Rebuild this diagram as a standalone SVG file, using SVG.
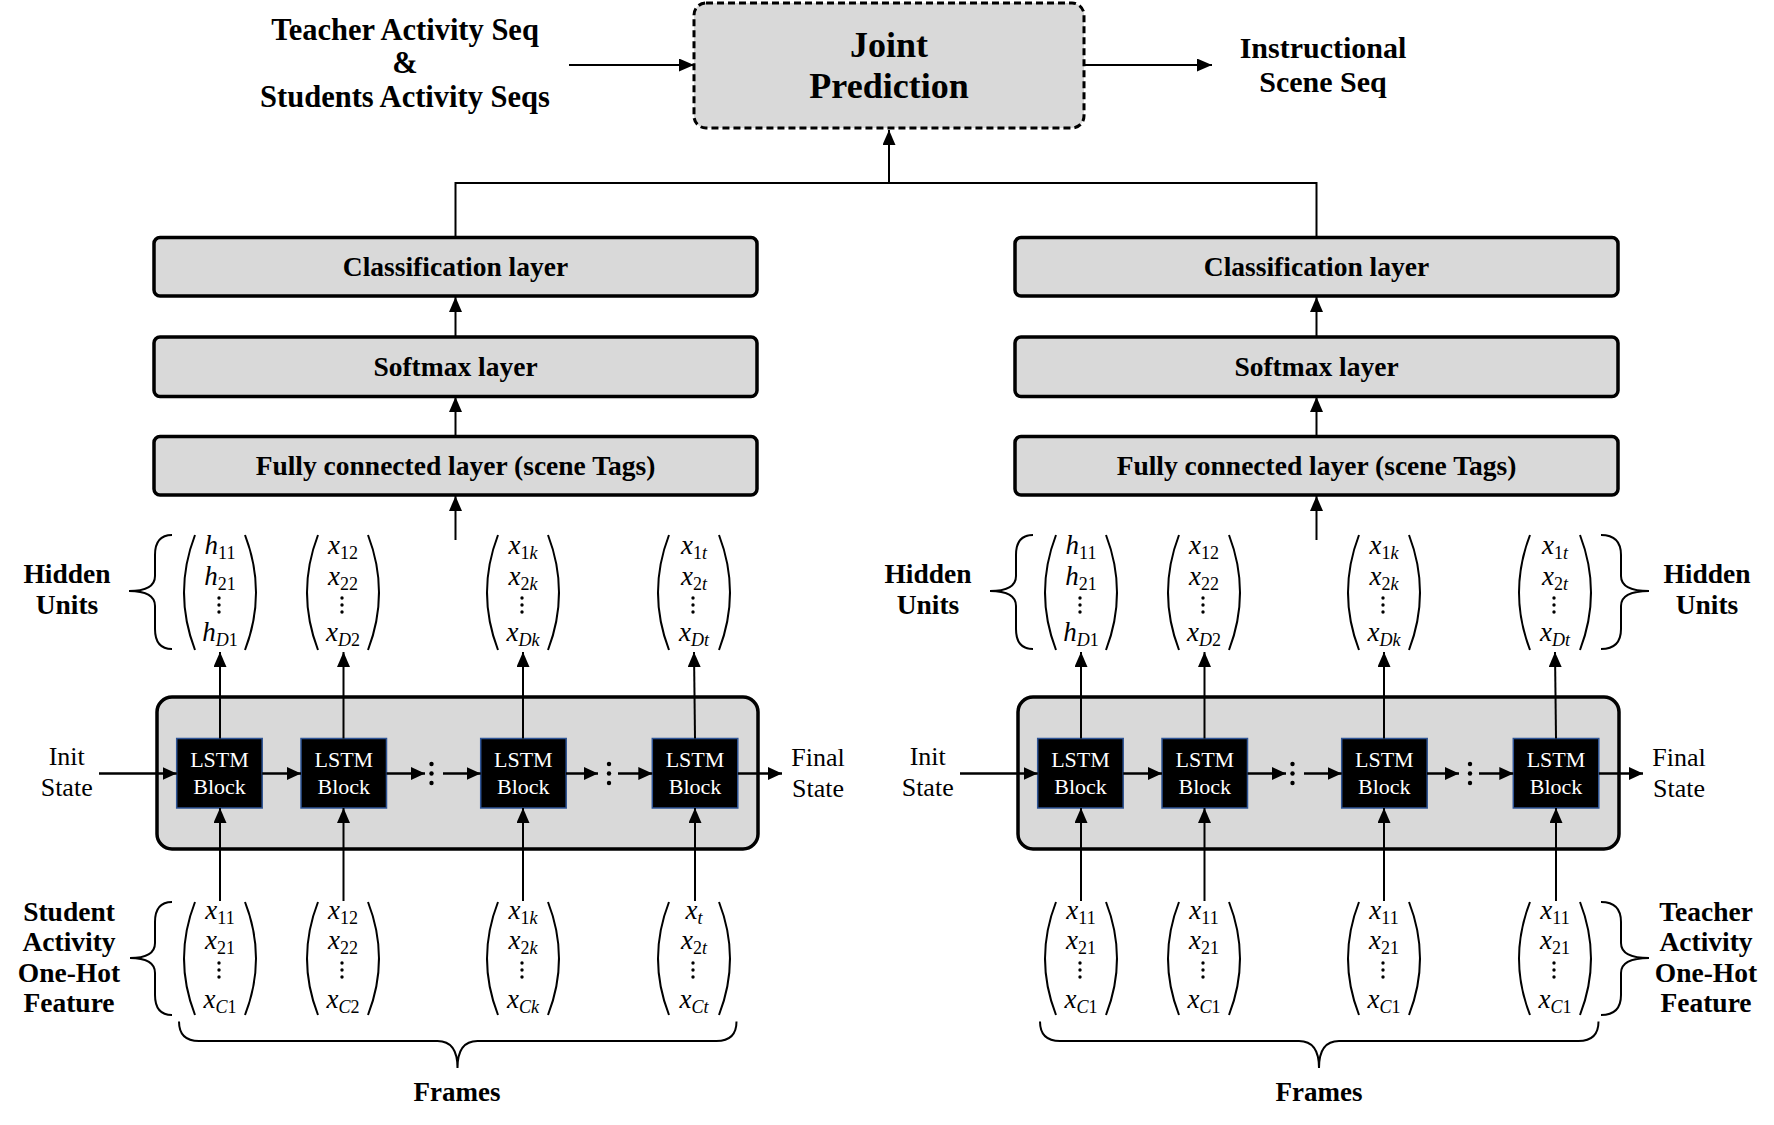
<svg xmlns="http://www.w3.org/2000/svg" width="1774" height="1125" viewBox="0 0 1774 1125">
<style>
.b{font-family:"Liberation Serif","Times New Roman",serif;font-weight:bold;fill:#000;text-anchor:middle}
.r{font-family:"Liberation Serif","Times New Roman",serif;fill:#000;text-anchor:middle;font-size:26px}
.w{font-family:"Liberation Serif","Times New Roman",serif;fill:#fff;text-anchor:middle;font-size:22px}
.m{font-family:"Liberation Serif","Times New Roman",serif;fill:#000;text-anchor:middle;font-size:27px}
.i{font-style:italic}
.s{font-size:18px}
.box{fill:#d9d9d9;stroke:#000;stroke-width:3.5}
.lstm{fill:#000;stroke:#2f5597;stroke-width:1.5}
.ln{fill:none;stroke:#000;stroke-width:2}
.arr{fill:none;stroke:#000;stroke-width:2;marker-end:url(#ah)}
.arr2{fill:none;stroke:#000;stroke-width:2.5;marker-end:url(#ah2)}
.par{fill:none;stroke:#000;stroke-width:2}
.br{fill:none;stroke:#000;stroke-width:2}
</style>
<defs>
<marker id="ah" viewBox="0 0 15 13" refX="15" refY="6.5" markerWidth="15" markerHeight="13" markerUnits="userSpaceOnUse" orient="auto"><path d="M0,0 L15,6.5 L0,13 z" fill="#000"/></marker>
<marker id="ah2" viewBox="0 0 14 13" refX="14" refY="6.5" markerWidth="14" markerHeight="13" markerUnits="userSpaceOnUse" orient="auto"><path d="M0,0 L14,6.5 L0,13 z" fill="#000"/></marker>
<g id="vdH"><circle cx="0" cy="598" r="1.7"/><circle cx="0" cy="605" r="1.7"/><circle cx="0" cy="612" r="1.7"/></g>
<g id="vdI"><circle cx="0" cy="963" r="1.7"/><circle cx="0" cy="970" r="1.7"/><circle cx="0" cy="977" r="1.7"/></g>
<g id="pH"><path class="par" d="M-25,535 Q-47,592.5 -25,650"/><path class="par" d="M25,535 Q47,592.5 25,650"/></g>
<g id="pI"><path class="par" d="M-25,902 Q-47,958.5 -25,1015"/><path class="par" d="M25,902 Q47,958.5 25,1015"/></g>
<g id="rdots"><circle cx="0" cy="764" r="2.2"/><circle cx="0" cy="773.5" r="2.2"/><circle cx="0" cy="783" r="2.2"/></g>
</defs>
<rect width="1774" height="1125" fill="#fff"/>

<g id="top-input">
<text class="b" font-size="30.5" x="405" y="40">Teacher Activity Seq</text>
<text class="b" font-size="30.5" x="405" y="73">&amp;</text>
<text class="b" font-size="30.5" x="405" y="107">Students Activity Seqs</text>
</g>
<g id="joint-prediction">
<rect x="694" y="3" width="390" height="125" rx="12" fill="#d9d9d9" stroke="#000" stroke-width="3" stroke-dasharray="7 4"/>
<text class="b" font-size="36" x="889" y="57">Joint</text>
<text class="b" font-size="36" x="889" y="98">Prediction</text>
</g>
<g id="output">
<text class="b" font-size="30" x="1323" y="58">Instructional</text>
<text class="b" font-size="30" x="1323" y="92">Scene Seq</text>
</g>

<g id="left-classification"><rect class="box" x="154" y="237.5" width="603" height="58.5" rx="6"/><text class="b" font-size="27.5" x="455.5" y="276">Classification layer</text></g>
<g id="left-softmax"><rect class="box" x="154" y="337" width="603" height="59.5" rx="6"/><text class="b" font-size="27.5" x="455.5" y="375.5">Softmax layer</text></g>
<g id="left-fc"><rect class="box" x="154" y="436.5" width="603" height="58.5" rx="6"/><text class="b" font-size="27.5" x="455.5" y="475">Fully connected layer (scene Tags)</text></g>
<g id="right-classification"><rect class="box" x="1015" y="237.5" width="603" height="58.5" rx="6"/><text class="b" font-size="27.5" x="1316.5" y="276">Classification layer</text></g>
<g id="right-softmax"><rect class="box" x="1015" y="337" width="603" height="59.5" rx="6"/><text class="b" font-size="27.5" x="1316.5" y="375.5">Softmax layer</text></g>
<g id="right-fc"><rect class="box" x="1015" y="436.5" width="603" height="58.5" rx="6"/><text class="b" font-size="27.5" x="1316.5" y="475">Fully connected layer (scene Tags)</text></g>

<g id="left-lstm">
<rect class="box" x="157" y="697" width="601" height="152" rx="15"/>
<rect class="lstm" x="176.7" y="738.5" width="85.5" height="69.5"/>
<rect class="lstm" x="301" y="738.5" width="85.5" height="69.5"/>
<rect class="lstm" x="480.7" y="738.5" width="85.5" height="69.5"/>
<rect class="lstm" x="652.3" y="738.5" width="85.5" height="69.5"/>
<text class="w" x="219.5" y="766.5">LSTM</text><text class="w" x="219.5" y="793.5">Block</text>
<text class="w" x="343.8" y="766.5">LSTM</text><text class="w" x="343.8" y="793.5">Block</text>
<text class="w" x="523.3" y="766.5">LSTM</text><text class="w" x="523.3" y="793.5">Block</text>
<text class="w" x="695" y="766.5">LSTM</text><text class="w" x="695" y="793.5">Block</text>
</g>
<g id="right-lstm">
<rect class="box" x="1018" y="697" width="601" height="152" rx="15"/>
<rect class="lstm" x="1037.7" y="738.5" width="85.5" height="69.5"/>
<rect class="lstm" x="1162" y="738.5" width="85.5" height="69.5"/>
<rect class="lstm" x="1341.7" y="738.5" width="85.5" height="69.5"/>
<rect class="lstm" x="1513.3" y="738.5" width="85.5" height="69.5"/>
<text class="w" x="1080.5" y="766.5">LSTM</text><text class="w" x="1080.5" y="793.5">Block</text>
<text class="w" x="1204.8" y="766.5">LSTM</text><text class="w" x="1204.8" y="793.5">Block</text>
<text class="w" x="1384.3" y="766.5">LSTM</text><text class="w" x="1384.3" y="793.5">Block</text>
<text class="w" x="1556" y="766.5">LSTM</text><text class="w" x="1556" y="793.5">Block</text>
</g>

<g id="state-labels">
<text class="r" x="66.7" y="765">Init</text><text class="r" x="66.7" y="796">State</text>
<text class="r" x="818" y="766">Final</text><text class="r" x="818" y="797">State</text>
<text class="r" x="927.7" y="765">Init</text><text class="r" x="927.7" y="796">State</text>
<text class="r" x="1679" y="766">Final</text><text class="r" x="1679" y="797">State</text>
</g>

<g id="left-hidden">
<text class="b" font-size="27.5" x="67" y="583">Hidden</text><text class="b" font-size="27.5" x="67" y="614">Units</text>
<path class="br" d="M172,535 Q155,535 155,555 L155,576 Q155,591 129,591 Q155,591 155,606 L155,629 Q155,649 172,649"/>
<use href="#pH" x="220"/><use href="#vdH" x="219"/>
<text class="m" x="220" y="554"><tspan class="i">h</tspan><tspan class="s" dy="5">11</tspan></text>
<text class="m" x="220" y="585"><tspan class="i">h</tspan><tspan class="s" dy="5">21</tspan></text>
<text class="m" x="220" y="641"><tspan class="i">h</tspan><tspan class="s i" dy="5">D</tspan><tspan class="s">1</tspan></text>
<use href="#pH" x="343"/><use href="#vdH" x="342"/>
<text class="m" x="343" y="554"><tspan class="i">x</tspan><tspan class="s" dy="5">12</tspan></text>
<text class="m" x="343" y="585"><tspan class="i">x</tspan><tspan class="s" dy="5">22</tspan></text>
<text class="m" x="343" y="641"><tspan class="i">x</tspan><tspan class="s i" dy="5">D</tspan><tspan class="s">2</tspan></text>
<use href="#pH" x="523"/><use href="#vdH" x="522"/>
<text class="m" x="523" y="554"><tspan class="i">x</tspan><tspan class="s" dy="5">1</tspan><tspan class="s i">k</tspan></text>
<text class="m" x="523" y="585"><tspan class="i">x</tspan><tspan class="s" dy="5">2</tspan><tspan class="s i">k</tspan></text>
<text class="m" x="523" y="641"><tspan class="i">x</tspan><tspan class="s i" dy="5">Dk</tspan></text>
<use href="#pH" x="694"/><use href="#vdH" x="693"/>
<text class="m" x="694" y="554"><tspan class="i">x</tspan><tspan class="s" dy="5">1</tspan><tspan class="s i">t</tspan></text>
<text class="m" x="694" y="585"><tspan class="i">x</tspan><tspan class="s" dy="5">2</tspan><tspan class="s i">t</tspan></text>
<text class="m" x="694" y="641"><tspan class="i">x</tspan><tspan class="s i" dy="5">Dt</tspan></text>
</g>

<g id="left-input">
<text class="b" font-size="27.5" x="69" y="921">Student</text>
<text class="b" font-size="27.5" x="69" y="951">Activity</text>
<text class="b" font-size="27.5" x="69" y="982">One-Hot</text>
<text class="b" font-size="27.5" x="69" y="1012">Feature</text>
<path class="br" d="M172,902 Q155,902 155,922 L155,943 Q155,958 130,958 Q155,958 155,973 L155,995 Q155,1015 172,1015"/>
<use href="#pI" x="220"/><use href="#vdI" x="219"/>
<text class="m" x="220" y="919"><tspan class="i">x</tspan><tspan class="s" dy="5">11</tspan></text>
<text class="m" x="220" y="949"><tspan class="i">x</tspan><tspan class="s" dy="5">21</tspan></text>
<text class="m" x="220" y="1008"><tspan class="i">x</tspan><tspan class="s i" dy="5">C</tspan><tspan class="s">1</tspan></text>
<use href="#pI" x="343"/><use href="#vdI" x="342"/>
<text class="m" x="343" y="919"><tspan class="i">x</tspan><tspan class="s" dy="5">12</tspan></text>
<text class="m" x="343" y="949"><tspan class="i">x</tspan><tspan class="s" dy="5">22</tspan></text>
<text class="m" x="343" y="1008"><tspan class="i">x</tspan><tspan class="s i" dy="5">C</tspan><tspan class="s">2</tspan></text>
<use href="#pI" x="523"/><use href="#vdI" x="522"/>
<text class="m" x="523" y="919"><tspan class="i">x</tspan><tspan class="s" dy="5">1</tspan><tspan class="s i">k</tspan></text>
<text class="m" x="523" y="949"><tspan class="i">x</tspan><tspan class="s" dy="5">2</tspan><tspan class="s i">k</tspan></text>
<text class="m" x="523" y="1008"><tspan class="i">x</tspan><tspan class="s i" dy="5">Ck</tspan></text>
<use href="#pI" x="694"/><use href="#vdI" x="693"/>
<text class="m" x="694" y="919"><tspan class="i">x</tspan><tspan class="s i" dy="5">t</tspan></text>
<text class="m" x="694" y="949"><tspan class="i">x</tspan><tspan class="s" dy="5">2</tspan><tspan class="s i">t</tspan></text>
<text class="m" x="694" y="1008"><tspan class="i">x</tspan><tspan class="s i" dy="5">Ct</tspan></text>
</g>

<g id="left-frames">
<path class="br" d="M179,1021.5 Q179,1041 199,1041 L437.5,1041 Q457.5,1041 457.5,1068 Q457.5,1041 477.5,1041 L716.5,1041 Q736.5,1041 736.5,1021.5"/>
<text class="b" font-size="27" x="457" y="1101">Frames</text>
</g>

<g id="right-hidden">
<text class="b" font-size="27.5" x="928" y="583">Hidden</text><text class="b" font-size="27.5" x="928" y="614">Units</text>
<path class="br" d="M1033,535 Q1016,535 1016,555 L1016,576 Q1016,591 990,591 Q1016,591 1016,606 L1016,629 Q1016,649 1033,649"/>
<text class="b" font-size="27.5" x="1707" y="583">Hidden</text><text class="b" font-size="27.5" x="1707" y="614">Units</text>
<path class="br" d="M1601,535 Q1621,535 1621,555 L1621,576 Q1621,591 1649,591 Q1621,591 1621,606 L1621,629 Q1621,649 1601,649"/>
<use href="#pH" x="1081"/><use href="#vdH" x="1080"/>
<text class="m" x="1081" y="554"><tspan class="i">h</tspan><tspan class="s" dy="5">11</tspan></text>
<text class="m" x="1081" y="585"><tspan class="i">h</tspan><tspan class="s" dy="5">21</tspan></text>
<text class="m" x="1081" y="641"><tspan class="i">h</tspan><tspan class="s i" dy="5">D</tspan><tspan class="s">1</tspan></text>
<use href="#pH" x="1204"/><use href="#vdH" x="1203"/>
<text class="m" x="1204" y="554"><tspan class="i">x</tspan><tspan class="s" dy="5">12</tspan></text>
<text class="m" x="1204" y="585"><tspan class="i">x</tspan><tspan class="s" dy="5">22</tspan></text>
<text class="m" x="1204" y="641"><tspan class="i">x</tspan><tspan class="s i" dy="5">D</tspan><tspan class="s">2</tspan></text>
<use href="#pH" x="1384"/><use href="#vdH" x="1383"/>
<text class="m" x="1384" y="554"><tspan class="i">x</tspan><tspan class="s" dy="5">1</tspan><tspan class="s i">k</tspan></text>
<text class="m" x="1384" y="585"><tspan class="i">x</tspan><tspan class="s" dy="5">2</tspan><tspan class="s i">k</tspan></text>
<text class="m" x="1384" y="641"><tspan class="i">x</tspan><tspan class="s i" dy="5">Dk</tspan></text>
<use href="#pH" x="1555"/><use href="#vdH" x="1554"/>
<text class="m" x="1555" y="554"><tspan class="i">x</tspan><tspan class="s" dy="5">1</tspan><tspan class="s i">t</tspan></text>
<text class="m" x="1555" y="585"><tspan class="i">x</tspan><tspan class="s" dy="5">2</tspan><tspan class="s i">t</tspan></text>
<text class="m" x="1555" y="641"><tspan class="i">x</tspan><tspan class="s i" dy="5">Dt</tspan></text>
</g>

<g id="right-input">
<text class="b" font-size="27.5" x="1706" y="921">Teacher</text>
<text class="b" font-size="27.5" x="1706" y="951">Activity</text>
<text class="b" font-size="27.5" x="1706" y="982">One-Hot</text>
<text class="b" font-size="27.5" x="1706" y="1012">Feature</text>
<path class="br" d="M1601,902 Q1621,902 1621,922 L1621,943 Q1621,958 1649,958 Q1621,958 1621,973 L1621,995 Q1621,1015 1601,1015"/>
<use href="#pI" x="1081"/><use href="#vdI" x="1080"/>
<text class="m" x="1081" y="919"><tspan class="i">x</tspan><tspan class="s" dy="5">11</tspan></text>
<text class="m" x="1081" y="949"><tspan class="i">x</tspan><tspan class="s" dy="5">21</tspan></text>
<text class="m" x="1081" y="1008"><tspan class="i">x</tspan><tspan class="s i" dy="5">C</tspan><tspan class="s">1</tspan></text>
<use href="#pI" x="1204"/><use href="#vdI" x="1203"/>
<text class="m" x="1204" y="919"><tspan class="i">x</tspan><tspan class="s" dy="5">11</tspan></text>
<text class="m" x="1204" y="949"><tspan class="i">x</tspan><tspan class="s" dy="5">21</tspan></text>
<text class="m" x="1204" y="1008"><tspan class="i">x</tspan><tspan class="s i" dy="5">C</tspan><tspan class="s">1</tspan></text>
<use href="#pI" x="1384"/><use href="#vdI" x="1383"/>
<text class="m" x="1384" y="919"><tspan class="i">x</tspan><tspan class="s" dy="5">11</tspan></text>
<text class="m" x="1384" y="949"><tspan class="i">x</tspan><tspan class="s" dy="5">21</tspan></text>
<text class="m" x="1384" y="1008"><tspan class="i">x</tspan><tspan class="s i" dy="5">C</tspan><tspan class="s">1</tspan></text>
<use href="#pI" x="1555"/><use href="#vdI" x="1554"/>
<text class="m" x="1555" y="919"><tspan class="i">x</tspan><tspan class="s" dy="5">11</tspan></text>
<text class="m" x="1555" y="949"><tspan class="i">x</tspan><tspan class="s" dy="5">21</tspan></text>
<text class="m" x="1555" y="1008"><tspan class="i">x</tspan><tspan class="s i" dy="5">C</tspan><tspan class="s">1</tspan></text>
</g>

<g id="right-frames">
<path class="br" d="M1040,1021.5 Q1040,1041 1060,1041 L1299,1041 Q1319,1041 1319,1068 Q1319,1041 1339,1041 L1578.5,1041 Q1598.5,1041 1598.5,1021.5"/>
<text class="b" font-size="27" x="1319" y="1101">Frames</text>
</g>

<g id="connectors">
<line class="arr" x1="569" y1="65" x2="694" y2="65"/>
<line class="arr" x1="1084" y1="65" x2="1212" y2="65"/>
<polyline class="ln" points="455.5,237.5 455.5,183 1316.5,183 1316.5,237.5"/>
<line class="arr" x1="889" y1="183" x2="889" y2="130"/>
<line class="arr" x1="455.5" y1="337" x2="455.5" y2="297"/>
<line class="arr" x1="455.5" y1="436.5" x2="455.5" y2="397"/>
<line class="arr" x1="455.5" y1="540" x2="455.5" y2="496"/>
<line class="arr" x1="1316.5" y1="337" x2="1316.5" y2="297"/>
<line class="arr" x1="1316.5" y1="436.5" x2="1316.5" y2="397"/>
<line class="arr" x1="1316.5" y1="540" x2="1316.5" y2="496"/>
<line class="arr" x1="220" y1="738.5" x2="220" y2="652"/>
<line class="arr" x1="343.5" y1="738.5" x2="343.5" y2="652"/>
<line class="arr" x1="523" y1="738.5" x2="523" y2="652"/>
<line class="arr" x1="695" y1="738.5" x2="694" y2="652"/>
<line class="arr" x1="220" y1="901" x2="220" y2="808"/>
<line class="arr" x1="343.5" y1="901" x2="343.5" y2="808"/>
<line class="arr" x1="523" y1="901" x2="523" y2="808"/>
<line class="arr" x1="695" y1="901" x2="695" y2="808"/>
<line class="arr" x1="1081" y1="738.5" x2="1081" y2="652"/>
<line class="arr" x1="1204.5" y1="738.5" x2="1204.5" y2="652"/>
<line class="arr" x1="1384" y1="738.5" x2="1384" y2="652"/>
<line class="arr" x1="1556" y1="738.5" x2="1555" y2="652"/>
<line class="arr" x1="1081" y1="901" x2="1081" y2="808"/>
<line class="arr" x1="1204.5" y1="901" x2="1204.5" y2="808"/>
<line class="arr" x1="1384" y1="901" x2="1384" y2="808"/>
<line class="arr" x1="1556" y1="901" x2="1556" y2="808"/>
<line class="arr2" x1="99" y1="773.5" x2="176.7" y2="773.5"/>
<line class="arr2" x1="262.2" y1="773.5" x2="301" y2="773.5"/>
<line class="arr2" x1="386.5" y1="773.5" x2="425" y2="773.5"/>
<line class="arr2" x1="443" y1="773.5" x2="480.7" y2="773.5"/>
<line class="arr2" x1="566" y1="773.5" x2="598" y2="773.5"/>
<line class="arr2" x1="618" y1="773.5" x2="652.3" y2="773.5"/>
<line class="arr2" x1="737.8" y1="773.5" x2="782" y2="773.5"/>
<use href="#rdots" x="431.5"/>
<use href="#rdots" x="609"/>
<line class="arr2" x1="960" y1="773.5" x2="1037.7" y2="773.5"/>
<line class="arr2" x1="1123.2" y1="773.5" x2="1162" y2="773.5"/>
<line class="arr2" x1="1247.5" y1="773.5" x2="1286" y2="773.5"/>
<line class="arr2" x1="1304" y1="773.5" x2="1341.7" y2="773.5"/>
<line class="arr2" x1="1427" y1="773.5" x2="1459" y2="773.5"/>
<line class="arr2" x1="1479" y1="773.5" x2="1513.3" y2="773.5"/>
<line class="arr2" x1="1598.8" y1="773.5" x2="1643" y2="773.5"/>
<use href="#rdots" x="1292.5"/>
<use href="#rdots" x="1470"/>
</g>
</svg>
